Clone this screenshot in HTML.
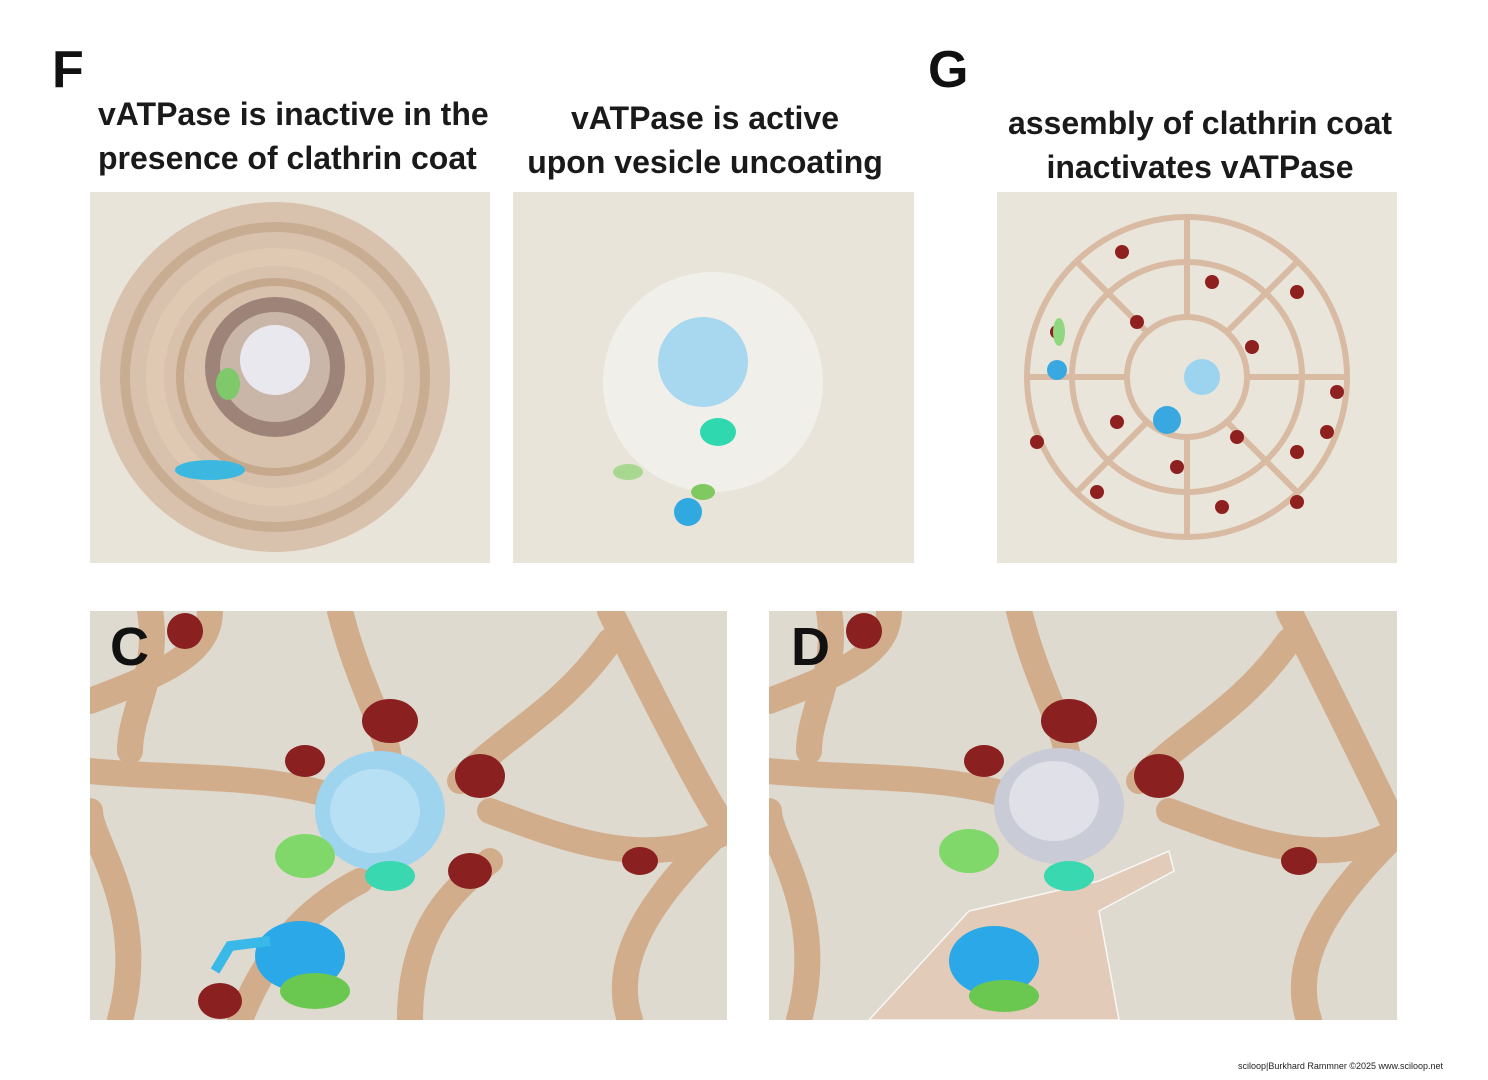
<!DOCTYPE html>
<html><head><meta charset="utf-8">
<style>
html,body{margin:0;padding:0;background:#fff;}
body{width:1488px;height:1080px;position:relative;overflow:hidden;font-family:"Liberation Sans",sans-serif;}
.lbl{position:absolute;font-weight:bold;color:#111;}
.t{position:absolute;font-weight:bold;font-size:32px;line-height:44px;color:#1a1a1a;white-space:nowrap;}
.p{position:absolute;}
</style></head><body>
<div class="lbl" style="left:52px;top:40px;font-size:52px;">F</div>
<div class="lbl" style="left:928px;top:40px;font-size:52px;">G</div>
<div class="t" style="left:98px;top:92px;">vATPase is inactive in the<br>presence of clathrin coat</div>
<div class="t" style="left:505px;top:96px;width:400px;text-align:center;">vATPase is active<br>upon vesicle uncoating</div>
<div class="t" style="left:1000px;top:101px;width:400px;text-align:center;">assembly of clathrin coat<br>inactivates vATPase</div>

<!-- F1 -->
<svg class="p" style="left:90px;top:192px" width="400" height="371">
<rect width="400" height="371" fill="#e8e4d9"/>
<circle cx="185" cy="185" r="175" fill="#d8c2ad"/>
<circle cx="185" cy="185" r="150" fill="none" stroke="#c9ad92" stroke-width="10"/>
<circle cx="185" cy="185" r="120" fill="none" stroke="#e0c9b3" stroke-width="18"/>
<circle cx="185" cy="185" r="95" fill="none" stroke="#c6a88c" stroke-width="8"/>
<circle cx="185" cy="175" r="70" fill="#9e8478"/>
<circle cx="185" cy="175" r="55" fill="#c9b6a8"/>
<circle cx="185" cy="168" r="35" fill="#e8e8ee"/>
<ellipse cx="138" cy="192" rx="12" ry="16" fill="#7fc96a"/>
<ellipse cx="120" cy="278" rx="35" ry="10" fill="#3cb8e0"/>
</svg>

<!-- F2 -->
<svg class="p" style="left:513px;top:192px" width="401" height="371">
<rect width="401" height="371" fill="#e8e4d9"/>
<circle cx="200" cy="190" r="110" fill="#f1efe9"/>
<circle cx="190" cy="170" r="45" fill="#a8d8f0"/>
<ellipse cx="205" cy="240" rx="18" ry="14" fill="#30d8b0"/>
<ellipse cx="115" cy="280" rx="15" ry="8" fill="#a8d890"/>
<ellipse cx="175" cy="320" rx="14" ry="14" fill="#30a8e0"/>
<ellipse cx="190" cy="300" rx="12" ry="8" fill="#80c860"/>
</svg>

<!-- G -->
<svg class="p" style="left:997px;top:192px" width="400" height="371">
<rect width="400" height="371" fill="#e9e5da"/>
<g fill="none" stroke="#d9bba3" stroke-width="6">
<circle cx="190" cy="185" r="160"/><circle cx="190" cy="185" r="115"/><circle cx="190" cy="185" r="60"/>
<path d="M190 25 L190 125 M30 185 L130 185 M350 185 L250 185 M190 345 L190 245 M80 70 L150 140 M300 70 L230 140 M80 300 L150 230 M300 300 L230 230"/>
</g>
<g fill="#8e2020">
<circle cx="125" cy="60" r="7"/><circle cx="215" cy="90" r="7"/><circle cx="300" cy="100" r="7"/><circle cx="60" cy="140" r="7"/>
<circle cx="140" cy="130" r="7"/><circle cx="255" cy="155" r="7"/><circle cx="340" cy="200" r="7"/><circle cx="40" cy="250" r="7"/>
<circle cx="120" cy="230" r="7"/><circle cx="240" cy="245" r="7"/><circle cx="180" cy="275" r="7"/><circle cx="300" cy="260" r="7"/>
<circle cx="100" cy="300" r="7"/><circle cx="225" cy="315" r="7"/><circle cx="300" cy="310" r="7"/><circle cx="330" cy="240" r="7"/>
</g>
<circle cx="205" cy="185" r="18" fill="#9cd4f0"/>
<circle cx="170" cy="228" r="14" fill="#3aa8e0"/>
<circle cx="60" cy="178" r="10" fill="#3aa8e0"/>
<ellipse cx="62" cy="140" rx="6" ry="14" fill="#90d880"/>
</svg>

<!-- C -->
<svg class="p" style="left:90px;top:611px" width="637" height="409">
<rect width="637" height="409" fill="#dedad0"/>
<g fill="none" stroke="#d2ad8c" stroke-width="26" stroke-linecap="round">
<path d="M0 90 C80 60 120 40 120 0"/><path d="M30 409 C60 300 0 230 0 200"/>
<path d="M250 0 C270 80 300 120 300 160"/><path d="M0 160 C100 170 200 160 280 200"/>
<path d="M370 170 C420 120 470 100 520 30"/><path d="M400 200 C480 230 560 260 637 220"/>
<path d="M320 409 C320 320 360 280 400 250"/><path d="M540 409 C520 350 560 290 620 230"/>
<path d="M520 0 C560 80 610 180 637 220"/><path d="M150 409 C180 330 230 290 270 270"/>
<path d="M60 0 C70 60 40 100 40 140"/>
</g>
<g fill="#8a2020">
<ellipse cx="300" cy="110" rx="28" ry="22"/><ellipse cx="390" cy="165" rx="25" ry="22"/><ellipse cx="380" cy="260" rx="22" ry="18"/>
<ellipse cx="215" cy="150" rx="20" ry="16"/><ellipse cx="130" cy="390" rx="22" ry="18"/><ellipse cx="95" cy="20" rx="18" ry="18"/>
<ellipse cx="550" cy="250" rx="18" ry="14"/>
</g>
<ellipse cx="290" cy="200" rx="65" ry="60" fill="#9fd4ef"/>
<ellipse cx="285" cy="200" rx="45" ry="42" fill="#b8e0f4"/>
<ellipse cx="215" cy="245" rx="30" ry="22" fill="#80d86a"/>
<ellipse cx="300" cy="265" rx="25" ry="15" fill="#3ad8b0"/>
<ellipse cx="210" cy="345" rx="45" ry="35" fill="#2aa8e8"/>
<ellipse cx="225" cy="380" rx="35" ry="18" fill="#6ac850"/>
<path d="M180 330 L140 335 L125 360" stroke="#3ab8e8" stroke-width="10" fill="none"/>
</svg>
<div class="lbl" style="left:110px;top:616px;font-size:54px;">C</div>

<!-- D -->
<svg class="p" style="left:769px;top:611px" width="628" height="409">
<rect width="628" height="409" fill="#dedad0"/>
<g fill="none" stroke="#d2ad8c" stroke-width="26" stroke-linecap="round">
<path d="M0 90 C80 60 120 40 120 0"/><path d="M30 409 C60 300 0 230 0 200"/>
<path d="M250 0 C270 80 300 120 300 160"/><path d="M0 160 C100 170 200 160 280 200"/>
<path d="M370 170 C420 120 470 100 520 30"/><path d="M400 200 C480 230 560 260 628 220"/>
<path d="M540 409 C520 350 560 290 620 230"/>
<path d="M520 0 C560 80 610 180 628 220"/><path d="M60 0 C70 60 40 100 40 140"/>
</g>
<path d="M100 409 L200 300 L330 270 L400 240 L405 260 L330 300 L350 409 Z" fill="#e4c8b4" opacity="0.8" stroke="#fff" stroke-width="1.5"/>
<g fill="#8a2020">
<ellipse cx="300" cy="110" rx="28" ry="22"/><ellipse cx="390" cy="165" rx="25" ry="22"/>
<ellipse cx="215" cy="150" rx="20" ry="16"/><ellipse cx="95" cy="20" rx="18" ry="18"/><ellipse cx="530" cy="250" rx="18" ry="14"/>
</g>
<ellipse cx="290" cy="195" rx="65" ry="58" fill="#c9cbd6"/>
<ellipse cx="285" cy="190" rx="45" ry="40" fill="#dfe0e8"/>
<ellipse cx="200" cy="240" rx="30" ry="22" fill="#80d86a"/>
<ellipse cx="300" cy="265" rx="25" ry="15" fill="#3ad8b0"/>
<ellipse cx="225" cy="350" rx="45" ry="35" fill="#2aa8e8"/>
<ellipse cx="235" cy="385" rx="35" ry="16" fill="#6ac850"/>
</svg>
<div class="lbl" style="left:791px;top:616px;font-size:54px;">D</div>

<div style="position:absolute;left:1238px;top:1061px;font-size:9px;color:#222;">sciloop|Burkhard Rammner ©2025 www.sciloop.net</div>
</body></html>
